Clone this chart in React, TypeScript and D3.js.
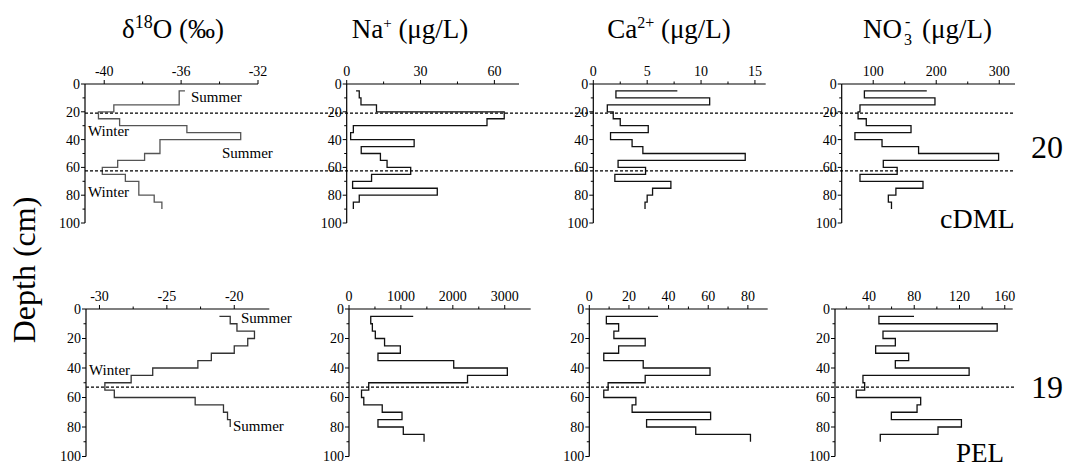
import React from 'react';
import * as d3 from 'd3';

// ---------- DATA ----------
const depthsTop = [5, 10, 15, 20, 25, 30, 35, 40, 45, 50, 55, 60, 65, 70, 75, 80, 85, 90];
const d18OTop = [-35.8, -36.1, -36.1, -39.5, -40.3, -39.2, -35.7, -32.9, -37.1, -37.1, -37.9, -39.3, -40.1, -38.9, -38.2, -38.2, -37.4, -37.0];
const naTop = [3.8, 5.1, 5.8, 12.1, 64, 57, 2.7, 1.6, 27.4, 5.9, 13.7, 16.4, 26, 10.1, 2.4, 36.8, 5.1, 2.7];
const caTop = [7.8, 2.1, 10.8, 1.3, 1.85, 2.5, 5.1, 1.6, 3.6, 4.6, 14.1, 2.3, 4.85, 2.0, 7.2, 5.5, 5.0, 4.8];
const no3Top = [185, 86, 198, 79, 76, 89, 160, 71, 114, 172, 299, 116, 138, 79, 179, 136, 124, 129];

const depthsBottomIso = [5, 10, 15, 20, 25, 30, 35, 40, 45, 50, 55, 60, 65, 70, 75, 80];
const depthsBottom = [5, 10, 15, 20, 25, 30, 35, 40, 45, 50, 55, 60, 65, 70, 75, 80, 85, 90];
const d18OBottom = [-21.1, -20.3, -19.8, -18.5, -19.0, -20.0, -21.7, -22.7, -26.05, -27.65, -29.6, -28.9, -22.9, -20.8, -20.5, -20.3];
const naBottom = [1237, 419, 450, 507, 685, 989, 558, 2017, 3050, 2283, 380, 241, 285, 640, 1021, 558, 1046, 1446];
const caBottom = [34.7, 8.6, 14.8, 12.4, 28.2, 14.8, 7.3, 27.2, 60.9, 28.2, 9.5, 7.3, 23.5, 21.6, 61.2, 28.9, 53.7, 81.3];
const no3Bottom = [79.8, 48.8, 153.3, 52.4, 63.3, 45.9, 75.1, 63.3, 128.5, 34.7, 36.2, 28.8, 85.7, 82.5, 59.8, 121.7, 101, 50];

const depthTicks = [0, 20, 40, 60, 80, 100];
const depthMinor = [10, 30, 50, 70, 90];
const winterLinesTop = [21, 62.5];
const winterLinesBottom = [53];

const FONT = '"Liberation Serif", "Times New Roman", Times, serif';

type PanelProps = {
  x0: number; x1: number; y0: number; y1: number;
  domain: [number, number]; ticks: number[]; minor: number[];
  depths: number[]; values: number[]; color: string;
};

function Panel({ x0, x1, y0, y1, domain, ticks, minor, depths, values, color }: PanelProps) {
  const xs = d3.scaleLinear().domain(domain).range([x0, x1]);
  const ys = d3.scaleLinear().domain([0, 100]).range([y0, y1]);
  const line = d3
    .line<number>()
    .x((v) => xs(v))
    .y((_, i) => ys(depths[i]))
    .curve(d3.curveStepAfter);
  return (
    <g>
      <path d={line(values) || ''} fill="none" stroke={color} strokeWidth={1.3} />
      {/* x axis */}
      <line x1={x0} x2={x1} y1={y0} y2={y0} stroke="#000" strokeWidth={1.2} />
      {ticks.map((t) => (
        <g key={'t' + t}>
          <line x1={xs(t)} x2={xs(t)} y1={y0} y2={y0 - 4} stroke="#000" strokeWidth={1} />
          <text x={xs(t)} y={y0 - 8} textAnchor="middle" fontSize={14} fontFamily={FONT}>
            {t < 0 ? '-' + Math.abs(t) : t}
          </text>
        </g>
      ))}
      {minor.map((t) => (
        <line key={'m' + t} x1={xs(t)} x2={xs(t)} y1={y0} y2={y0 - 2.5} stroke="#000" strokeWidth={1} />
      ))}
      {/* y axis */}
      <line x1={x0} x2={x0} y1={y0} y2={y1} stroke="#000" strokeWidth={1.2} />
      {depthTicks.map((t) => (
        <g key={'y' + t}>
          <line x1={x0} x2={x0 - 4} y1={ys(t)} y2={ys(t)} stroke="#000" strokeWidth={1} />
          <text x={x0 - 5} y={ys(t)} dy="0.35em" textAnchor="end" fontSize={14} fontFamily={FONT}>
            {t}
          </text>
        </g>
      ))}
      {depthMinor.map((t) => (
        <line key={'ym' + t} x1={x0} x2={x0 - 2.5} y1={ys(t)} y2={ys(t)} stroke="#000" strokeWidth={1} />
      ))}
    </g>
  );
}

export default function App() {
  const topY0 = 84, topY1 = 223;
  const botY0 = 309, botY1 = 456.5;
  const yTop = d3.scaleLinear().domain([0, 100]).range([topY0, topY1]);
  const yBot = d3.scaleLinear().domain([0, 100]).range([botY0, botY1]);

  return (
    <svg
      width={1067}
      height={466}
      style={{ position: 'absolute', left: 0, top: 0, background: '#fff' }}
      fontFamily={FONT}
    >
      <rect x={0} y={0} width={1067} height={466} fill="#fff" />
      {/* headers */}
      <text x={173} y={38} textAnchor="middle" fontSize={27}>
        δ<tspan dy={-10} fontSize={18}>18</tspan>
        <tspan dy={10}>O (‰)</tspan>
      </text>
      <text x={410} y={38} textAnchor="middle" fontSize={27}>
        Na<tspan dy={-10} fontSize={15}>+</tspan>
        <tspan dy={10}> (μg/L)</tspan>
      </text>
      <text x={669} y={38} textAnchor="middle" fontSize={27}>
        Ca<tspan dy={-10} fontSize={16}>2+</tspan>
        <tspan dy={10}> (μg/L)</tspan>
      </text>
      <text x={863} y={38} fontSize={27}>NO</text>
      <text x={904} y={45} fontSize={16}>3</text>
      <text x={905} y={27} fontSize={16}>-</text>
      <text x={922} y={38} fontSize={27}>(μg/L)</text>

      <text transform="translate(35,270) rotate(-90)" textAnchor="middle" fontSize={32}>
        Depth (cm)
      </text>

      {/* top row */}
      <Panel x0={85} x1={258} y0={topY0} y1={topY1} domain={[-41, -32]} ticks={[-40, -36, -32]} minor={[-38, -34]} depths={depthsTop} values={d18OTop} color="#555" />
      <Panel x0={346.7} x1={519} y0={topY0} y1={topY1} domain={[0, 70]} ticks={[0, 30, 60]} minor={[15, 45]} depths={depthsTop} values={naTop} color="#111" />
      <Panel x0={593.3} x1={765.7} y0={topY0} y1={topY1} domain={[0, 16]} ticks={[0, 5, 10, 15]} minor={[2.5, 7.5, 12.5]} depths={depthsTop} values={caTop} color="#111" />
      <Panel x0={841.7} x1={1015} y0={topY0} y1={topY1} domain={[50, 325]} ticks={[100, 200, 300]} minor={[150, 250]} depths={depthsTop} values={no3Top} color="#111" />

      {/* bottom row */}
      <Panel x0={86} x1={269.3} y0={botY0} y1={botY1} domain={[-31, -17.4]} ticks={[-30, -25, -20]} minor={[-27.5, -22.5]} depths={depthsBottomIso} values={d18OBottom} color="#333" />
      <Panel x0={349} x1={530.7} y0={botY0} y1={botY1} domain={[0, 3500]} ticks={[0, 1000, 2000, 3000]} minor={[500, 1500, 2500]} depths={depthsBottom} values={naBottom} color="#111" />
      <Panel x0={589.3} x1={767.7} y0={botY0} y1={botY1} domain={[0, 90]} ticks={[0, 20, 40, 60, 80]} minor={[10, 30, 50, 70]} depths={depthsBottom} values={caBottom} color="#111" />
      <Panel x0={835} x1={1012.7} y0={botY0} y1={botY1} domain={[10, 167]} ticks={[40, 80, 120, 160]} minor={[20, 60, 100, 140]} depths={depthsBottom} values={no3Bottom} color="#111" />

      {/* dotted winter lines */}
      {winterLinesTop.map((d) => (
        <line key={'wt' + d} x1={85} x2={1015} y1={yTop(d)} y2={yTop(d)} stroke="#000" strokeWidth={1.2} strokeDasharray="3,2" />
      ))}
      {winterLinesBottom.map((d) => (
        <line key={'wb' + d} x1={86} x2={1015} y1={yBot(d)} y2={yBot(d)} stroke="#000" strokeWidth={1.2} strokeDasharray="3,2" />
      ))}

      {/* season labels */}
      <text x={191} y={102} fontSize={15}>Summer</text>
      <text x={88} y={136} fontSize={15}>Winter</text>
      <text x={222} y={158} fontSize={15}>Summer</text>
      <text x={88} y={197} fontSize={15}>Winter</text>
      <text x={241} y={323} fontSize={15}>Summer</text>
      <text x={89} y={375} fontSize={15}>Winter</text>
      <text x={233} y={431} fontSize={15}>Summer</text>

      {/* site labels */}
      <text x={1047} y={158} textAnchor="middle" fontSize={32}>20</text>
      <text x={940} y={228} fontSize={28}>cDML</text>
      <text x={1047} y={398} textAnchor="middle" fontSize={32}>19</text>
      <text x={956} y={462} fontSize={27}>PEL</text>
    </svg>
  );
}
